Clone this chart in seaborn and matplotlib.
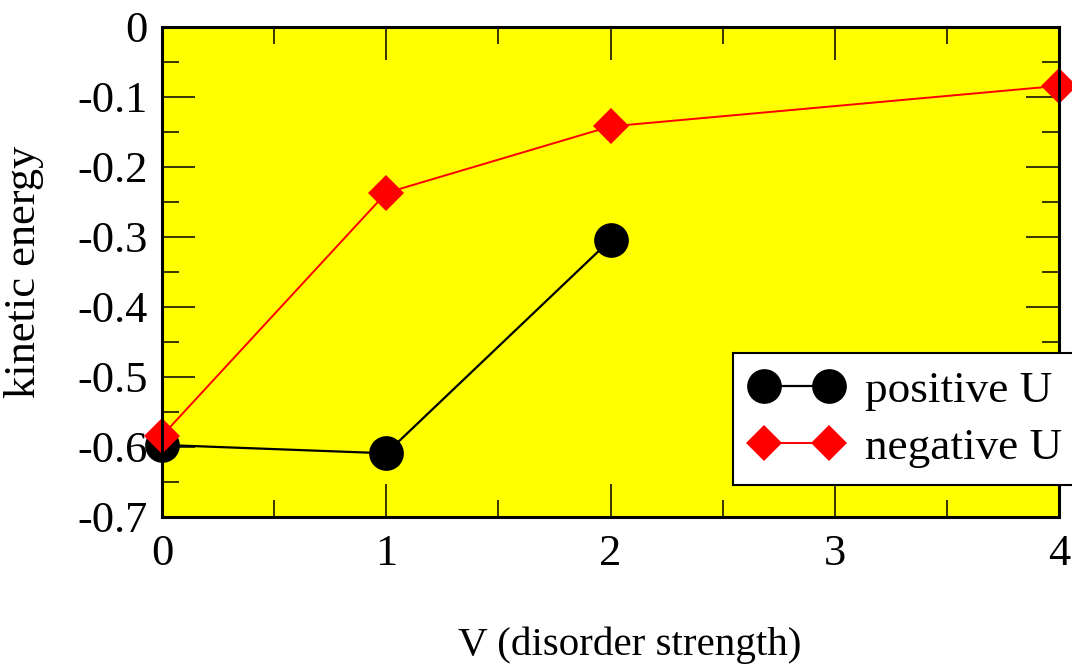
import matplotlib
matplotlib.use("Agg")
import matplotlib.pyplot as plt
import seaborn as sns
import numpy as np
from matplotlib.ticker import MultipleLocator

V_pos = [0, 1, 2]
ke_pos = [-0.597, -0.609, -0.304]
V_neg = [0, 1, 2, 4]
ke_neg = [-0.584, -0.237, -0.142, -0.084]
labels = ["positive U", "negative U"]
xticks = [0, 1, 2, 3, 4]
yticks = [0, -0.1, -0.2, -0.3, -0.4, -0.5, -0.6, -0.7]

sns.set_theme(style="ticks")
plt.rcParams['font.family'] = ['Liberation Serif', 'DejaVu Serif']
plt.rcParams['text.color'] = 'black'
plt.rcParams['axes.labelcolor'] = 'black'
plt.rcParams['xtick.color'] = 'black'
plt.rcParams['ytick.color'] = 'black'

fig = plt.figure(figsize=(10.72, 6.68), dpi=100)
ax = fig.add_axes([162/1072, 1-517/668, (1059-162)/1072, (517-27)/668])
ax.set_facecolor('#ffff00')

sns.lineplot(x=V_pos, y=ke_pos, ax=ax, color='black', linewidth=1.6,
             marker='o', markersize=25, markeredgecolor='black', markerfacecolor='black',
             markeredgewidth=0, clip_on=False, zorder=3, label=labels[0])
sns.lineplot(x=V_neg, y=ke_neg, ax=ax, color='red', linewidth=1.4,
             marker='D', markersize=18, markeredgecolor='red', markerfacecolor='red',
             markeredgewidth=0, clip_on=False, zorder=4, label=labels[1])

ax.set_xlim(0, 4)
ax.set_ylim(-0.7, 0)
ax.set_xticks(xticks)
ax.set_xticklabels([str(t) for t in xticks])
ax.set_yticks(yticks)
ax.set_yticklabels(['0' if t == 0 else f"{t:.1f}" for t in yticks])
ax.xaxis.set_minor_locator(MultipleLocator(0.5))
ax.yaxis.set_minor_locator(MultipleLocator(0.05))
ax.tick_params(which='both', direction='in', top=True, right=True, width=1.1, colors='black')
ax.tick_params(which='major', length=24, labelsize=32)
ax.tick_params(axis='x', which='major', pad=12)
ax.tick_params(axis='y', which='major', pad=10)
ax.tick_params(which='minor', length=12)
for s in ax.spines.values():
    s.set_linewidth(2.2)
    s.set_color('black')
    s.set_zorder(5)

ax.set_xlabel('V (disorder strength)', fontsize=29.5)
ax.set_ylabel('kinetic energy', fontsize=32)
ax.xaxis.set_label_coords((630-162)/897, (517-627)/490)
ax.yaxis.set_label_coords((44-162)/897, 0.5)

handles, labs = ax.get_legend_handles_labels()
leg = ax.legend(handles, labs, loc='upper left', bbox_to_anchor=(733/1072, 1-353/668),
                bbox_transform=fig.transFigure, borderaxespad=0, numpoints=2,
                handlelength=2.04, fontsize=32.5, frameon=True, fancybox=False,
                edgecolor='black', facecolor='white', framealpha=1,
                labelspacing=0.37, handletextpad=0.5, borderpad=0.38)
leg.get_frame().set_linewidth(1.5)
leg.set_zorder(10)

fig.savefig('out.png', dpi=100)
